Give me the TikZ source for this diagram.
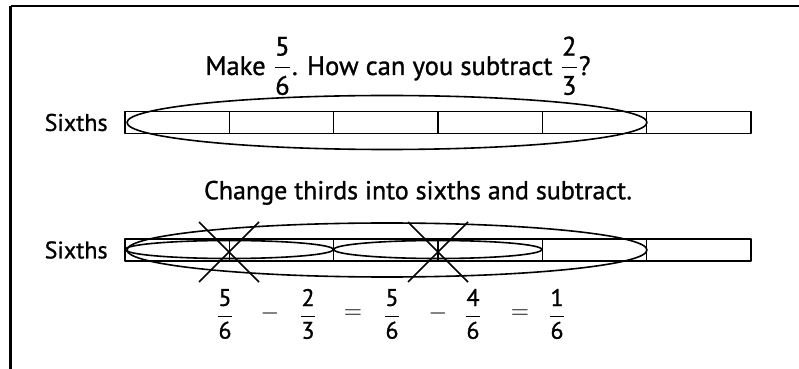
\documentclass[tikz,border=0pt]{standalone}
\usepackage{amsmath}
\usepackage{fontspec}
\setmainfont{PT Sans}[FakeBold=1]
\usepackage{tikz}
\tikzset{
  pagegrid/.style={x=0.5pt, y=-0.5pt, line join=round},
  lbl/.style={font=\fontsize{12}{14}\selectfont, inner sep=0pt},
  headline/.style={font=\fontsize{13.3}{15}\selectfont, inner sep=0pt, anchor=base},
  strip/.style={draw, line width=0.8pt},
  ring/.style={draw, line width=0.8pt},
  xmark/.style={draw, line width=0.8pt}
}
\newcommand{\fr}[2]{$\dfrac{\text{#1}}{\text{#2}}$}

\begin{document}
\begin{tikzpicture}[pagegrid]
\useasboundingbox (0,0) rectangle (799,369);
\draw[line width=1.5pt] (10.5,369) -- (10.5,6.5);
\draw[line width=1pt] (10.5,6.5) -- (799,6.5);
% the two strips of sixths
\foreach \y in {122.5,250} {
  \draw[strip] (125,\y-11) rectangle (751,\y+11);
  \foreach \i in {1,...,5} \draw[strip] (125+104.33*\i,\y-11) -- ++(0,22);
}
\node[headline] (ask) at (398,75) {Make \fr{5}{6}. How can you subtract \fr{2}{3}?};
\node[lbl, anchor=east] (s1) at (108,122.5) {Sixths};
\draw[ring] (387,122.5) ellipse [x radius=260, y radius=27];
\node[headline, font=\fontsize{13}{15}\selectfont] (tell) at (418,199.3) {Change thirds into sixths and subtract.};
\node[lbl, anchor=east] (s2) at (108,250) {Sixths};
\draw[ring] (387,250) ellipse [x radius=260, y radius=27];
\draw[ring] (229.2,249.5) ellipse [x radius=104, y radius=9];
\draw[ring] (437.8,249.5) ellipse [x radius=104, y radius=9];
\draw[xmark] (199,222) -- (259,282) (259,222) -- (199,282);
\draw[xmark] (408,222) -- (468,282) (468,222) -- (408,282);
% worked line
\foreach \x/\t [count=\k] in {225/\fr{5}{6}, 270/$-$, 308/\fr{2}{3}, 353/$=$, 392/\fr{5}{6}, 438/$-$, 473/\fr{4}{6}, 520/$=$, 557/\fr{1}{6}}
  \node[lbl] (eq\k) at (\x,314) {\t};
\end{tikzpicture}
\end{document}
